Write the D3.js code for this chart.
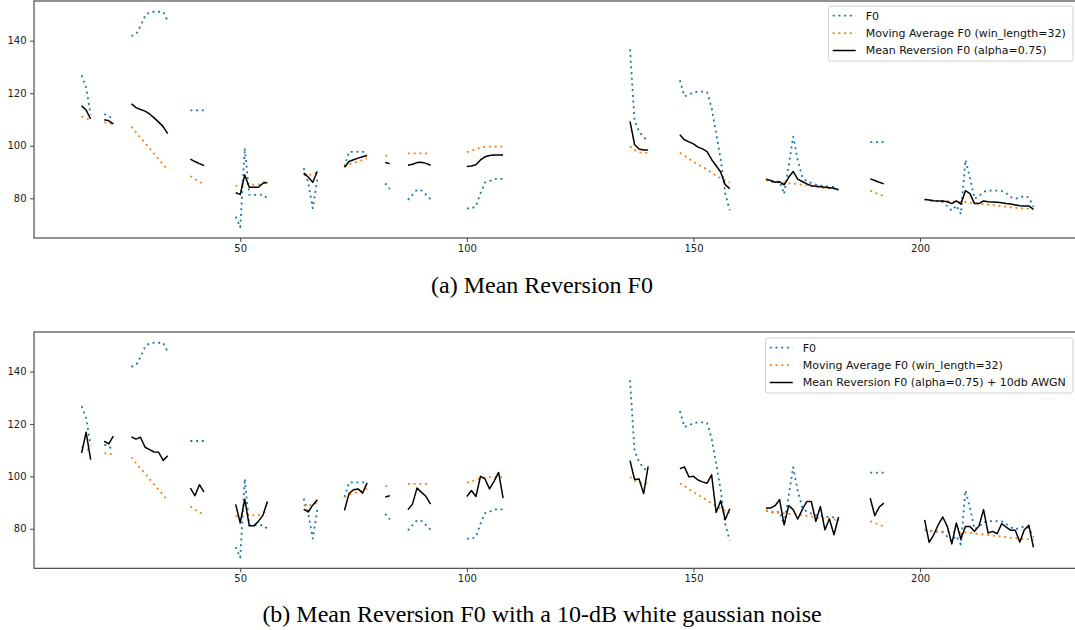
<!DOCTYPE html>
<html>
<head>
<meta charset="utf-8">
<script src="https://cdn.jsdelivr.net/npm/d3@7"></script>
<style>
  body { margin: 0; background: #fff; }
  svg { display: block; }
</style>
</head>
<body>
<svg id="chart" width="1075" height="630"></svg>
<script>
// first frame of every voiced stretch, the values below run on frame by frame
var segStart = [15, 20, 26, 39, 49, 64, 73, 82, 87, 100, 136, 147, 166, 189, 201];

var f0 = [
  [126.8, 122.2, 111.8],
  [112.1, 111.4, 109.9],
  [141.8, 142.4, 145.6, 149.4, 150.9, 151.0, 151.0, 151.0, 147.5],
  [113.5, 113.5, 113.5, 113.5],
  [73.0, 69.0, 99.1, 81.3, 81.3, 81.3, 81.4, 80.0],
  [91.5, 86.0, 76.2, 87.2],
  [92.1, 97.7, 97.7, 97.7, 97.7, 97.7],
  [85.7, 83.6],
  [79.4, 81.4, 83.2, 83.0, 81.4, 79.6],
  [76.2, 76.2, 76.9, 81.9, 86.0, 86.5, 87.4, 87.4, 87.4],
  [136.7, 109.7, 105.5, 103.2, 101.9],
  [124.9, 118.8, 119.5, 120.3, 120.6, 120.6, 120.4, 114.5, 104.8, 94.9, 81.9, 75.5],
  [87.0, 86.4, 86.0, 86.5, 81.6, 92.5, 103.5, 94.5, 88.2, 86.4, 85.8, 85.2, 84.9, 84.6, 84.5, 84.3, 83.0],
  [101.4, 101.4, 101.4, 101.4],
  [79.6, 79.2, 79.0, 78.8, 78.6, 77.0, 75.3, 77.3, 74.0, 94.6, 88.0, 79.8, 80.8, 82.5, 82.9, 82.9, 82.9, 82.8, 81.9, 80.5, 79.8, 80.3, 80.9, 80.3, 76.8]
];

var movingAvg = [
  [111.2, 110.3, 110.0],
  [108.9, 108.6, 108.4],
  [107.3, 105.1, 103.0, 101.1, 99.0, 96.9, 94.9, 92.9, 90.8],
  [88.5, 87.3, 86.2, 85.5],
  [84.6, 85.3, 85.6, 85.3, 85.1, 85.2, 86.0, 86.8],
  [88.9, 88.8, 89.3, 90.0],
  [92.0, 93.0, 93.5, 94.0, 94.6, 95.2],
  [96.3, 96.0],
  [97.1, 97.1, 97.1, 97.1, 97.1, 97.3],
  [97.6, 98.1, 98.7, 99.3, 99.6, 99.7, 99.7, 99.7, 99.7],
  [99.8, 98.4, 97.5, 97.3, 97.3],
  [97.3, 96.3, 95.1, 93.9, 92.9, 92.0, 90.9, 89.8, 88.6, 87.6, 86.8, 86.0],
  [87.0, 86.6, 86.2, 86.0, 85.9, 85.7, 85.7, 85.4, 85.2, 84.9, 84.6, 84.3, 84.1, 83.9, 83.7, 83.5, 83.3],
  [82.9, 82.2, 81.5, 80.9],
  [79.4, 79.3, 79.1, 79.0, 79.0, 78.9, 78.9, 78.7, 78.6, 78.6, 78.4, 78.2, 78.0, 77.8, 77.6, 77.4, 77.2, 77.0, 76.8, 76.6, 76.4, 76.2, 76.1, 76.0, 75.9]
];

var meanRev = [
  [115.2, 113.6, 110.2],
  [109.9, 109.5, 108.3],
  [116.0, 114.5, 113.8, 113.2, 112.1, 110.6, 109.0, 107.3, 104.6],
  [94.9, 94.0, 93.2, 92.5],
  [82.1, 81.5, 88.9, 84.2, 84.2, 84.2, 85.7, 86.0],
  [89.6, 88.1, 86.1, 90.2],
  [91.8, 94.0, 94.7, 95.3, 95.8, 96.3],
  [93.6, 93.2],
  [92.6, 93.0, 93.6, 93.7, 93.3, 92.6],
  [92.1, 92.3, 92.8, 94.6, 95.8, 96.3, 96.5, 96.5, 96.5],
  [109.3, 100.5, 98.8, 98.4, 98.4],
  [104.2, 102.3, 101.5, 100.7, 99.5, 98.8, 97.8, 94.8, 92.4, 90.0, 85.2, 83.7],
  [87.3, 86.8, 86.1, 86.3, 85.1, 88.0, 90.2, 87.3, 86.4, 85.5, 84.8, 84.6, 84.4, 84.2, 84.0, 83.8, 83.3],
  [87.4, 86.8, 86.1, 85.5],
  [79.6, 79.4, 79.1, 79.0, 79.0, 78.7, 78.0, 79.0, 77.8, 82.9, 81.8, 78.0, 78.0, 79.0, 78.7, 78.6, 78.5, 78.3, 78.0, 77.8, 77.5, 77.2, 77.1, 77.1, 75.8]
];

var meanRevNoisy = [
  [108.9, 116.8, 106.4],
  [113.4, 112.4, 115.4],
  [115.0, 114.2, 114.9, 111.1, 110.2, 109.3, 109.2, 106.1, 107.9],
  [95.5, 92.6, 96.8, 94.0],
  [89.3, 82.2, 91.3, 81.1, 81.1, 82.8, 85.1, 90.4],
  [87.5, 86.4, 89.0, 91.1],
  [87.0, 93.4, 94.9, 95.2, 93.6, 97.5],
  [92.1, 92.6],
  [87.3, 89.4, 95.5, 93.9, 92.3, 89.4],
  [92.3, 94.6, 92.3, 100.0, 99.0, 95.2, 98.1, 101.5, 91.7],
  [106.0, 98.8, 99.0, 93.4, 103.8],
  [102.9, 103.6, 99.8, 100.0, 98.6, 97.9, 97.4, 100.6, 86.2, 90.7, 83.4, 87.6],
  [87.9, 87.9, 88.8, 91.1, 81.5, 88.8, 87.3, 83.7, 87.3, 90.4, 90.4, 82.8, 88.5, 79.6, 83.7, 77.7, 84.5],
  [91.7, 85.0, 88.3, 89.8],
  [83.4, 74.8, 77.7, 81.5, 84.5, 80.9, 74.2, 82.2, 76.1, 80.9, 80.9, 79.0, 81.1, 87.3, 78.4, 79.0, 78.1, 81.9, 80.6, 79.4, 79.4, 74.9, 79.6, 81.3, 72.9]
];

var xTicks = [50, 100, 150, 200];
var yTicks = [80, 100, 120, 140];
var captions = ["(a) Mean Reversion F0", "(b) Mean Reversion F0 with a 10-dB white gaussian noise"];
var legendLabels = [
  ["F0", "Moving Average F0 (win_length=32)", "Mean Reversion F0 (alpha=0.75)"],
  ["F0", "Moving Average F0 (win_length=32)", "Mean Reversion F0 (alpha=0.75) + 10db AWGN"]
];

var svg = d3.select("#chart");

function toPoints(series) {
  return series.map(function (seg, i) {
    return seg.map(function (v, j) { return {x: segStart[i] + j, y: v}; });
  });
}

// matplotlib-like 5% padding
function padded(lo, hi) {
  var p = (hi - lo) * 0.05;
  return [lo - p, hi + p];
}

var firstX = segStart[0];
var lastX = segStart[segStart.length - 1] + f0[f0.length - 1].length - 1;

var styles = [
  {color: "#1f77b4", dash: "2,3.7", width: 1.8},
  {color: "#ff7f0e", dash: "2,3.7", width: 1.8},
  {color: "#000000", dash: null, width: 1.5}
];

function drawPanel(top, bottom, black, labels, caption, captionY, legendTop) {
  var left = 34, right = 1081;
  var all = [].concat.apply([], f0.concat(movingAvg, black));
  var x = d3.scaleLinear().domain(padded(firstX, lastX)).range([left, right]);
  var y = d3.scaleLinear().domain(padded(d3.min(all), d3.max(all))).range([bottom, top]);

  var g = svg.append("g");
  var clipId = "clip" + Math.round(top);
  g.append("clipPath").attr("id", clipId)
    .append("rect").attr("x", left).attr("y", top).attr("width", right - left).attr("height", bottom - top);

  var line = d3.line().x(function (d) { return x(d.x); }).y(function (d) { return y(d.y); });
  var plot = g.append("g").attr("clip-path", "url(#" + clipId + ")");

  [f0, movingAvg, black].forEach(function (series, k) {
    plot.selectAll(null)
      .data(toPoints(series))
      .enter()
      .append("path")
        .attr("d", line)
        .attr("fill", "none")
        .attr("stroke", styles[k].color)
        .attr("stroke-width", styles[k].width)
        .attr("stroke-dasharray", styles[k].dash)
        .attr("stroke-linejoin", "round");
  });

  var xAxis = g.append("g").attr("transform", "translate(0," + bottom + ")")
    .call(d3.axisBottom(x).tickValues(xTicks).tickSize(4).tickPadding(3).tickFormat(d3.format("d")));
  var yAxis = g.append("g").attr("transform", "translate(" + left + ",0)")
    .call(d3.axisLeft(y).tickValues(yTicks).tickSize(4).tickPadding(3.5).tickFormat(d3.format("d")));
  [xAxis, yAxis].forEach(function (a) {
    a.select(".domain").remove();
    a.selectAll("line").attr("stroke", "#333").attr("stroke-width", 0.9);
    a.selectAll("text").attr("fill", "#222").style("font-family", "DejaVu Sans").style("font-size", "10px");
  });

  g.append("rect")
    .attr("x", left).attr("y", top).attr("width", right - left).attr("height", bottom - top)
    .attr("fill", "none").attr("stroke", "#3a3a3a").attr("stroke-width", 1.1);

  // legend, right aligned inside the axes
  var leg = g.append("g");
  var box = leg.append("rect");
  var rowH = 17.4, boxRight = 1073;
  var texts = leg.selectAll("text")
    .data(labels)
    .enter()
    .append("text")
      .attr("y", function (d, i) { return legendTop + 9.7 + i * rowH; })
      .attr("dy", "0.35em")
      .style("font-family", "DejaVu Sans")
      .style("font-size", "11px")
      .attr("fill", "#111")
      .text(function (d) { return d; });
  var maxW = d3.max(texts.nodes(), function (n) { return n.getComputedTextLength(); });
  var boxLeft = boxRight - (maxW + 44.5);
  texts.attr("x", boxLeft + 37.3);
  leg.selectAll("line")
    .data(labels)
    .enter()
    .append("line")
      .attr("x1", boxLeft + 4.3).attr("x2", boxLeft + 27.3)
      .attr("y1", function (d, i) { return legendTop + 9.7 + i * rowH; })
      .attr("y2", function (d, i) { return legendTop + 9.7 + i * rowH; })
      .attr("stroke", function (d, i) { return styles[i].color; })
      .attr("stroke-width", function (d, i) { return styles[i].width; })
      .attr("stroke-dasharray", function (d, i) { return styles[i].dash; });
  box.attr("x", boxLeft).attr("y", legendTop)
    .attr("width", boxRight - boxLeft).attr("height", 55)
    .attr("rx", 2.5)
    .attr("fill", "#fff").attr("fill-opacity", 0.8)
    .attr("stroke", "#d0d0d0").attr("stroke-width", 1);

  svg.append("text")
    .attr("x", 542).attr("y", captionY)
    .attr("text-anchor", "middle")
    .style("font-family", "Liberation Serif")
    .style("font-size", "24px")
    .attr("fill", "#000")
    .text(caption);
}

drawPanel(1, 238, meanRev, legendLabels[0], captions[0], 293, 6);
drawPanel(332, 568.3, meanRevNoisy, legendLabels[1], captions[1], 622, 338);
</script>
</body>
</html>
